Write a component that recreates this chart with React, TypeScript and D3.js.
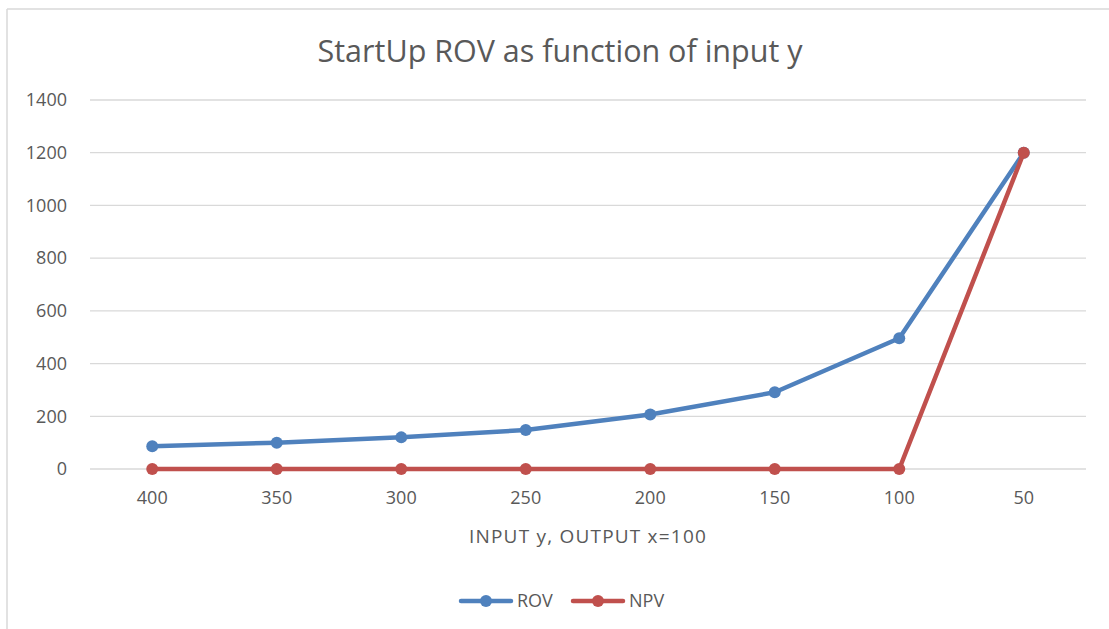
import React from 'react';
import * as d3 from 'd3';

const categories = ['400', '350', '300', '250', '200', '150', '100', '50'];
const rovValues = [86, 100, 120, 148, 207, 291, 496, 1200];
const npvValues = [0, 0, 0, 0, 0, 0, 0, 1200];
const yTicks = [0, 200, 400, 600, 800, 1000, 1200, 1400];

const series = [
  { name: 'ROV', values: rovValues, color: '#4f81bd' },
  { name: 'NPV', values: npvValues, color: '#c0504d' },
];

const W = 1109;
const H = 629;
const margin = { top: 100, right: 23, bottom: 160, left: 90 };
const font = "'Open Sans', 'Liberation Sans', sans-serif";
const textColor = '#595959';

export default function App() {
  const innerW = W - margin.left - margin.right;
  const innerH = H - margin.top - margin.bottom;

  const x = d3.scaleBand().domain(categories).range([0, innerW]);
  const y = d3.scaleLinear().domain([0, 1400]).range([innerH, 0]);

  const line = d3.line<number>()
    .x((_, i) => (x(categories[i]) ?? 0) + x.bandwidth() / 2)
    .y(d => y(d));

  return (
    <svg width={W} height={H} style={{ position: 'fixed', left: 0, top: 0, background: '#fff' }}>
      {/* chart border (only top & left visible in the crop) */}
      <line x1={7} x2={W} y1={9} y2={9} stroke="#d9d9d9" strokeWidth={1.5} />
      <line x1={7} x2={7} y1={9} y2={H} stroke="#d9d9d9" strokeWidth={1.5} />

      <text x={560} y={62} textAnchor="middle" fontFamily={font} fontSize={30.5} fill={textColor}>
        StartUp ROV as function of input y
      </text>

      <g transform={`translate(${margin.left},${margin.top})`}>
        {yTicks.map(t => (
          <g key={t}>
            <line x1={0} x2={innerW} y1={y(t)} y2={y(t)} stroke="#d9d9d9" strokeWidth={1.3} />
            <text x={-23} y={y(t)} dy="0.35em" textAnchor="end" fontFamily={font} fontSize={18} fill={textColor}>
              {t}
            </text>
          </g>
        ))}

        {categories.map(c => (
          <text key={c} x={(x(c) ?? 0) + x.bandwidth() / 2} y={innerH + 35} textAnchor="middle"
            fontFamily={font} fontSize={18} fill={textColor}>
            {c}
          </text>
        ))}

        {series.map(s => (
          <g key={s.name}>
            <path d={line(s.values) ?? ''} fill="none" stroke={s.color} strokeWidth={4.5} strokeLinejoin="round" />
            {s.values.map((v, i) => (
              <circle key={i} cx={(x(categories[i]) ?? 0) + x.bandwidth() / 2} cy={y(v)} r={6} fill={s.color} />
            ))}
          </g>
        ))}
      </g>

      <text x={588} y={543} textAnchor="middle" fontFamily={font} fontSize={19} fill={textColor} letterSpacing={1.2}>
        INPUT y, OUTPUT x=100
      </text>

      {series.map((s, i) => {
        const lx = 461 + i * 112;
        const ly = 601;
        return (
          <g key={s.name}>
            <line x1={lx} x2={lx + 50} y1={ly} y2={ly} stroke={s.color} strokeWidth={4.5} strokeLinecap="round" />
            <circle cx={lx + 25} cy={ly} r={6} fill={s.color} />
            <text x={lx + 56} y={ly} dy="0.35em" fontFamily={font} fontSize={18} fill={textColor}>
              {s.name}
            </text>
          </g>
        );
      })}
    </svg>
  );
}
